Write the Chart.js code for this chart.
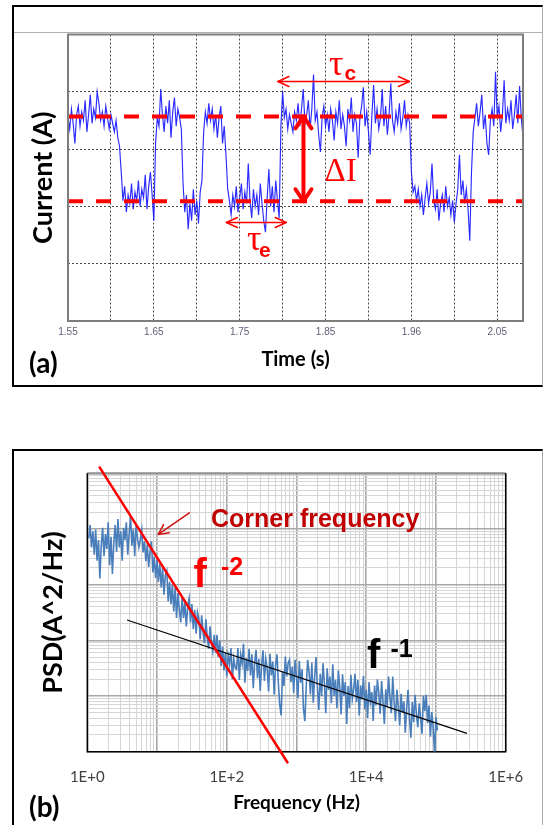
<!DOCTYPE html>
<html><head><meta charset="utf-8">
<script src="https://cdn.jsdelivr.net/npm/chart.js@4.4.0/dist/chart.umd.min.js"></script>
<style>
html,body{margin:0;padding:0;background:#fff;}
body{width:543px;height:825px;position:relative;overflow:hidden;}
canvas{position:absolute;left:0;}
#ca{top:0;}
#cb{top:440px;}
.frame{position:absolute;box-sizing:border-box;pointer-events:none;}
.lbl{position:absolute;white-space:nowrap;line-height:1;margin:0;padding:0;}
</style></head><body>
<div style="position:absolute;left:14px;top:32px;width:528px;height:1px;background:#b0b0b0;"></div>
<canvas id="ca" width="543" height="400"></canvas>
<canvas id="cb" width="543" height="385"></canvas>
<div class="frame" style="left:12px;top:5px;width:531px;height:382px;border-top:2px solid #000;border-left:2px solid #000;border-bottom:2px solid #000;border-right:1px solid #aaa;"></div>
<div class="frame" style="left:12px;top:449px;width:531px;height:400px;border-top:2px solid #000;border-left:2px solid #000;border-right:1px solid #aaa;"></div>
<script>
// ---------------- Panel (a): random telegraph noise ----------------
const timeStart = 1.55;
const timeStep = 0.002;
const currentValues = [
 3.55,3.35,3.70,3.45,3.10,3.60,3.75,3.40,3.65,3.50,
 3.85,3.30,3.60,3.95,3.45,3.70,3.55,4.00,3.80,3.50,
 3.65,3.40,3.75,3.55,3.35,3.60,3.45,3.30,3.50,3.20,
 3.05,
 2.60,2.10,2.35,1.90,2.20,2.05,2.40,1.95,2.25,2.10,
 2.45,2.00,2.30,2.15,2.55,1.95,2.35,2.60,2.20,1.75,
 3.10,3.55,3.40,4.05,3.60,3.30,3.75,3.45,3.85,3.20,
 3.65,3.90,3.40,3.70,3.55,3.35,
 2.40,1.90,2.20,1.60,2.05,1.75,2.30,1.85,2.10,1.70,2.25,2.45,
 3.30,3.65,3.45,3.80,3.50,3.70,3.35,3.60,3.20,3.55,3.75,3.10,3.40,2.90,
 2.30,2.10,1.85,2.20,2.00,2.35,1.90,2.15,2.40,1.95,
 2.25,2.05,2.75,2.10,1.80,2.30,2.00,2.20,1.85,2.40,
 2.05,1.75,1.55,2.15,2.65,2.00,2.35,1.90,2.45,2.10,
 1.80,
 3.40,4.00,3.55,3.70,3.35,3.60,3.45,3.30,3.65,3.50,
 3.80,3.40,3.70,4.05,3.45,3.60,3.85,3.35,3.70,4.30,
 3.50,3.65,3.25,2.95,3.55,3.75,3.40,3.60,3.30,3.70,
 3.50,3.15,3.65,3.45,3.85,3.35,3.60,3.40,3.05,3.70,
 3.50,3.90,3.30,3.60,3.45,2.85,3.55,3.75,4.08,3.40,
 3.65,3.30,2.90,3.60,4.12,3.45,3.70,3.35,3.55,4.05,
 3.40,3.75,3.25,3.60,4.15,3.50,3.30,3.65,3.45,3.80,
 3.35,3.55,3.85,3.40,3.60,3.45,
 2.60,2.25,2.35,2.10,2.30,2.00,2.20,1.85,2.15,2.40,
 2.05,2.25,2.75,2.10,1.95,2.30,1.75,2.05,2.20,1.90,
 2.35,2.00,2.15,1.85,2.10,1.72,2.05,2.30,2.90,2.20,
 2.45,2.05,2.30,1.95,1.40,
 2.60,3.30,3.55,3.80,3.40,3.65,3.95,3.35,3.60,3.10,
 2.90,3.50,3.70,3.40,4.35,3.55,3.75,3.30,3.60,4.20,
 3.45,3.70,3.50,3.85,3.35,3.60,3.95,3.45,4.10,3.55,
 3.20
];
const levelHigh = 3.57;   // upper trap level (dashed)
const levelLow = 2.09;    // lower trap level (dashed)
const timeTickLabels = ['1.55','','1.65','','1.75','','1.85','','1.96','','2.05'];

// ---------------- Panel (b): PSD ----------------
const freqLogStart = 0.02;   // log10(Hz) of first PSD bin
const freqLogStep = 0.02;
const psdLog = [
 3.83,4.07,3.67,3.96,3.54,3.99,3.43,3.80,3.11,3.70,
 4.02,3.51,3.91,3.64,4.12,3.35,3.86,3.19,3.75,4.07,
 3.59,4.18,3.67,3.96,3.43,4.02,3.80,4.12,3.54,3.91,
 4.23,3.70,3.99,3.51,4.07,3.83,3.67,
 3.80,3.98,3.58,3.78,3.42,3.72,3.32,3.60,3.78,3.22,
 3.50,3.12,3.45,3.05,3.38,2.95,3.30,2.82,3.18,3.25,
 2.70,3.05,2.65,3.00,2.52,2.95,2.40,2.85,2.55,2.32,
 2.78,2.40,2.68,2.25,2.60,2.75,2.32,2.65,2.20,2.55,
 2.12,2.50,2.38,2.02,2.45,2.15,1.95,2.38,2.05,1.85,
 2.25,1.98,1.80,2.10,1.78,
 2.10,1.70,1.99,1.54,1.89,1.46,1.78,1.35,1.73,1.57,1.86,1.30,1.67,1.51,
 1.48,1.86,1.29,1.74,1.58,1.94,1.24,1.68,1.45,1.85,
 1.37,1.75,1.14,1.60,1.83,1.32,1.67,1.09,1.57,1.82,
 1.27,1.67,1.49,1.08,1.76,1.37,1.62,1.03,1.55,1.75,
 1.23,0.84,0.65,1.44,1.18,1.71,1.35,1.59,1.65,1.25,
 1.53,1.05,1.65,1.34,0.96,1.63,1.24,1.48,0.77,0.55,
 1.18,1.65,1.43,1.03,1.60,0.88,1.34,1.70,1.14,0.75,
 1.40,1.00,1.59,1.22,0.69,1.50,1.11,1.35,0.87,1.57,
 1.00,1.29,0.78,1.46,1.17,0.67,1.39,1.00,1.25,0.50,
 1.18,0.78,1.38,0.95,1.12,1.40,0.89,1.29,0.65,1.19,
 0.94,1.36,0.76,1.11,0.60,1.25,0.90,1.07,0.55,1.19,
 0.83,1.30,1.05,0.68,1.27,0.90,0.50,1.12,0.81,1.35,
 0.98,0.69,1.35,0.89,0.55,1.11,0.80,0.47,1.04,0.70,
 0.90,0.34,0.78,1.11,0.60,0.25,0.89,0.53,1.02,0.66,
 0.44,0.87,0.60,0.32,1.00,0.73,1.02,0.51,0.83,0.27,
 0.71,0.44,-0.05,0.62,0.38
];
const fitF2 = {x: [1.48, 755], y: [131800, 0.62]};      // f^-2 line
const fitF1 = {x: [3.72, 278000], y: [231.7, 2.13]};    // f^-1 line
const freqTickValues = [1, 100, 10000, 1000000];
const freqTickLabels = ['1E+0', '1E+2', '1E+4', '1E+6'];

// ---------------- helpers ----------------
function logGrid(minExp, maxExp) {
  const v = [];
  for (let e = minExp; e < maxExp; e++) for (let m = 1; m <= 9; m++) v.push(m * Math.pow(10, e));
  v.push(Math.pow(10, maxExp));
  return v;
}
function isDecade(v) { const l = Math.log10(v); return Math.abs(l - Math.round(l)) < 1e-9; }

function drawHead(ctx, tx, ty, fx, fy, len, half) {
  const a = Math.atan2(ty - fy, tx - fx);
  const c = Math.cos(a), s = Math.sin(a);
  const bx = tx - len * c, by = ty - len * s;
  ctx.beginPath();
  ctx.moveTo(bx - half * s, by + half * c);
  ctx.lineTo(tx, ty);
  ctx.lineTo(bx + half * s, by - half * c);
  ctx.stroke();
}

const arrowNotesA = [
  {x1: 1.7945, y1: 4.18, x2: 1.9477, y2: 4.18, width: 1.5, head: 11, half: 5, both: true},
  {x1: 1.7345, y1: 1.72, x2: 1.8042, y2: 1.72, width: 1.5, head: 11, half: 5, both: true},
  {x1: 1.8243, y1: levelHigh, x2: 1.8243, y2: levelLow, width: 4, head: 12, half: 8, both: true}
];
const arrowNotesB = [
  {x1: 29.1, y1: 19500, x2: 10.4, y2: 7990, width: 1.5, head: 10, half: 5, both: false}
];

function arrowPlugin(id, notes, color) {
  return {
    id,
    afterDatasetsDraw(chart) {
      const {ctx, scales: {x, y}} = chart;
      ctx.save();
      ctx.strokeStyle = color;
      ctx.lineCap = 'round';
      ctx.lineJoin = 'round';
      notes.forEach(a => {
        const x1 = x.getPixelForValue(a.x1), y1 = y.getPixelForValue(a.y1);
        const x2 = x.getPixelForValue(a.x2), y2 = y.getPixelForValue(a.y2);
        ctx.lineWidth = a.width;
        ctx.beginPath(); ctx.moveTo(x1, y1); ctx.lineTo(x2, y2); ctx.stroke();
        drawHead(ctx, x2, y2, x1, y1, a.head, a.half);
        if (a.both) drawHead(ctx, x1, y1, x2, y2, a.head, a.half);
      });
      ctx.restore();
    }
  };
}

const frameA = {
  id: 'frameA',
  afterDatasetsDraw(chart) {
    const {ctx, chartArea: ca} = chart;
    ctx.save();
    ctx.strokeStyle = '#7d7d7d';
    ctx.lineWidth = 2;
    ctx.strokeRect(ca.left, ca.top, ca.right - ca.left, ca.bottom - ca.top);
    ctx.restore();
  }
};
const frameB = {
  id: 'frameB',
  beforeDatasetsDraw(chart) {
    const {ctx, chartArea: ca} = chart;
    ctx.save();
    ctx.lineWidth = 2;
    ctx.strokeStyle = '#8f8f8f';
    ctx.beginPath(); ctx.moveTo(ca.left, ca.top); ctx.lineTo(ca.right, ca.top); ctx.stroke();
    ctx.lineWidth = 1.5;
    ctx.strokeStyle = '#000';
    ctx.beginPath();
    ctx.moveTo(ca.left, ca.top); ctx.lineTo(ca.left, ca.bottom); ctx.lineTo(ca.right, ca.bottom); ctx.lineTo(ca.right, ca.top);
    ctx.stroke();
    ctx.restore();
  }
};

// ---------------- Chart (a) ----------------
new Chart(document.getElementById('ca'), {
  type: 'line',
  data: {
    datasets: [
      {data: [{x: 1.55, y: levelHigh}, {x: 2.08, y: levelHigh}], borderColor: '#ff0000', borderWidth: 4, borderDash: [15, 13], pointRadius: 0},
      {data: [{x: 1.55, y: levelLow}, {x: 2.08, y: levelLow}], borderColor: '#ff0000', borderWidth: 4, borderDash: [15, 13], pointRadius: 0},
      {data: currentValues.map((v, i) => ({x: timeStart + i * timeStep, y: v})), borderColor: 'rgba(20,20,255,0.9)', borderWidth: 1.15, pointRadius: 0, tension: 0}
    ]
  },
  options: {
    responsive: false, animation: false, events: [],
    layout: {padding: {left: 0, top: 34.5, right: 20, bottom: 0}},
    plugins: {legend: {display: false}, tooltip: {enabled: false}},
    scales: {
      x: {
        type: 'linear', min: 1.55, max: 2.08,
        afterFit: s => { s.height = 79; },
        ticks: {stepSize: 0.05, includeBounds: false, autoSkip: false, maxRotation: 0, padding: 5,
          color: '#606078', font: {family: 'Liberation Sans', size: 10},
          callback: (v, i) => timeTickLabels[i] ?? ''},
        grid: {color: '#4a4a4a', lineWidth: 1, drawTicks: false},
        border: {display: false, dash: [2, 2]},
        title: {display: true, text: 'Time (s)', color: '#000', font: {family: 'Lato', size: 20, weight: 'bold'}, padding: {top: 0, bottom: 28}}
      },
      y: {
        type: 'linear', min: 0, max: 5,
        afterFit: s => { s.width = 68; },
        ticks: {stepSize: 1, display: false},
        grid: {color: '#4a4a4a', lineWidth: 1, drawTicks: false},
        border: {display: false, dash: [2, 2]},
        title: {display: true, text: 'Current (A)', color: '#000', font: {family: 'Lato', size: 27, weight: 'bold'}, padding: {top: 27, bottom: 0}}
      }
    }
  },
  plugins: [frameA, arrowPlugin('arrowsA', arrowNotesA, '#ff0000')]
});

// ---------------- Chart (b) ----------------
const xGridB = logGrid(0, 6);
const yGridB = logGrid(0, 5);
const gridColor = c => (c.tick && isDecade(c.tick.value)) ? '#a8a8a8' : '#d6d6d6';
const gridWidth = c => (c.tick && isDecade(c.tick.value)) ? 1.6 : 1;
new Chart(document.getElementById('cb'), {
  type: 'line',
  data: {
    datasets: [
      {data: fitF2.x.map((x, i) => ({x, y: fitF2.y[i]})), borderColor: '#ff0000', borderWidth: 2.5, pointRadius: 0, clip: false},
      {data: fitF1.x.map((x, i) => ({x, y: fitF1.y[i]})), borderColor: '#000000', borderWidth: 1.2, pointRadius: 0, clip: false},
      {data: psdLog.map((e, k) => ({x: Math.pow(10, freqLogStart + k * freqLogStep), y: Math.pow(10, e)})), borderColor: '#4a7ebb', borderWidth: 1.6, pointRadius: 0, tension: 0}
    ]
  },
  options: {
    responsive: false, animation: false, events: [],
    layout: {padding: {left: 0, top: 33.3, right: 37.3, bottom: 0}},
    plugins: {legend: {display: false}, tooltip: {enabled: false}},
    scales: {
      x: {
        type: 'logarithmic', min: 1, max: 1000000,
        afterFit: s => { s.height = 73.3; },
        afterBuildTicks: s => { s.ticks = xGridB.map(v => ({value: v, major: isDecade(v)})); },
        ticks: {autoSkip: false, maxRotation: 0, padding: 16, color: '#404040', font: {family: 'Lato', size: 15},
          callback: v => { const i = freqTickValues.findIndex(t => Math.abs(t - v) / t < 1e-9); return i >= 0 ? freqTickLabels[i] : ''; }},
        grid: {color: gridColor, lineWidth: gridWidth, drawTicks: false},
        border: {display: false},
        title: {display: true, text: 'Frequency (Hz)', color: '#000', font: {family: 'Lato', size: 19, weight: 'bold'}, padding: {top: 0, bottom: 10.6}}
      },
      y: {
        type: 'logarithmic', min: 1, max: 100000,
        afterFit: s => { s.width = 87.3; },
        afterBuildTicks: s => { s.ticks = yGridB.map(v => ({value: v, major: isDecade(v)})); },
        ticks: {display: false},
        grid: {color: gridColor, lineWidth: gridWidth, drawTicks: false},
        border: {display: false},
        title: {display: true, text: 'PSD(A^2/Hz)', color: '#000', font: {family: 'Lato', size: 27, weight: 'bold'}, padding: {top: 37.3, bottom: 0}}
      }
    }
  },
  plugins: [frameB, arrowPlugin('arrowsB', arrowNotesB, '#d01010')]
});

// ---------------- text annotations ----------------
const baseK = {'Lato': 0.887, 'Liberation Sans': 0.8465, 'Liberation Serif': 0.8375};
function addLabel(text, left, baseline, family, size, color, weight) {
  const d = document.createElement('div');
  d.className = 'lbl';
  d.textContent = text;
  d.style.left = left + 'px';
  d.style.top = (baseline - baseK[family] * size) + 'px';
  d.style.fontFamily = "'" + family + "'";
  d.style.fontSize = size + 'px';
  d.style.fontWeight = weight || 'normal';
  d.style.color = color;
  document.body.appendChild(d);
}
addLabel('(a)', 29, 372.5, 'Lato', 28, '#000', 'bold');
addLabel('(b)', 29, 816.5, 'Lato', 28, '#000', 'bold');
addLabel('τ', 329, 75, 'Liberation Serif', 36, '#ff0000');
addLabel('c', 344.5, 80, 'Liberation Sans', 21, '#ff0000', 'bold');
addLabel('τ', 247, 250, 'Liberation Serif', 36, '#ff0000');
addLabel('e', 259, 256.7, 'Liberation Sans', 21, '#ff0000', 'bold');
addLabel('ΔI', 324.5, 181.7, 'Liberation Serif', 33, '#ff0000');
addLabel('Corner frequency', 211, 527.3, 'Liberation Sans', 25, '#c00000', 'bold');
addLabel('f', 193.5, 586.7, 'Liberation Sans', 40, '#ff0000', 'bold');
addLabel('-2', 221, 575, 'Liberation Sans', 25, '#ff0000', 'bold');
addLabel('f', 367, 668.3, 'Liberation Sans', 40, '#000', 'bold');
addLabel('-1', 390.5, 656.7, 'Liberation Sans', 25, '#000', 'bold');
</script>
</body></html>
